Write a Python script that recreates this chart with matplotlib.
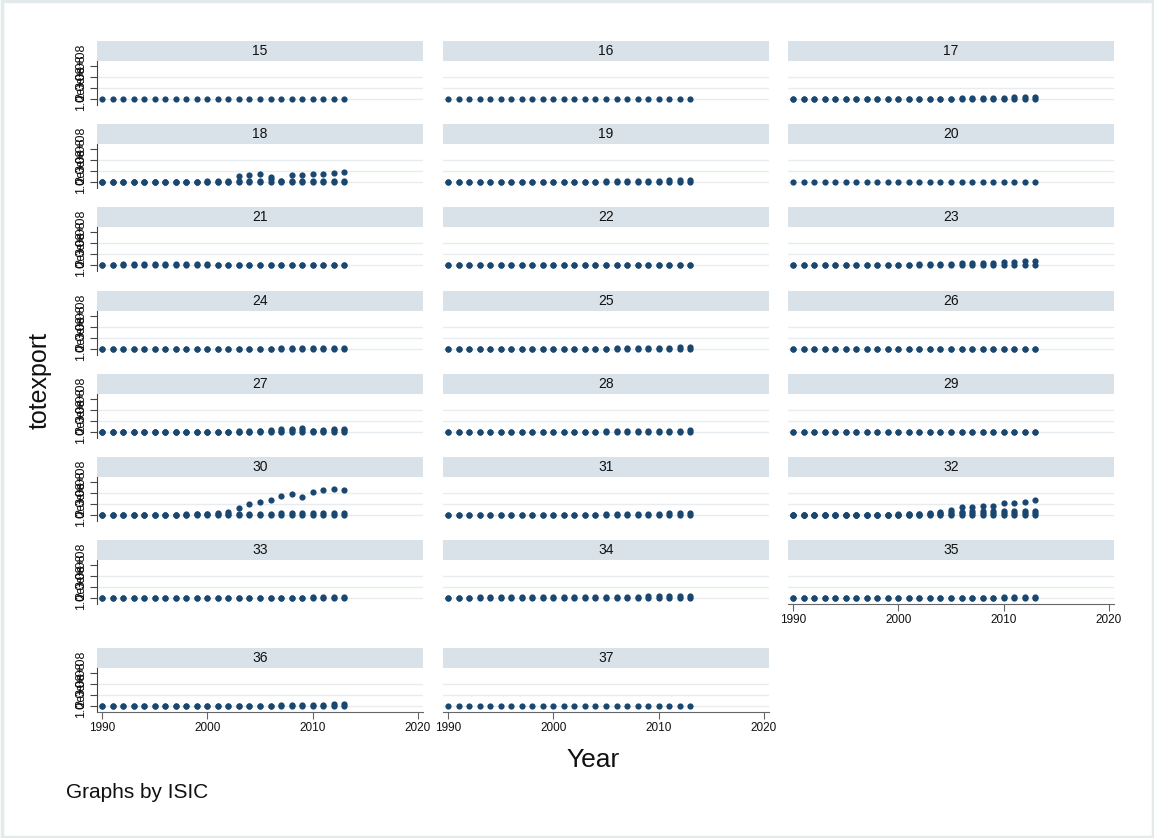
import matplotlib
matplotlib.use("Agg")
import matplotlib.pyplot as plt
import numpy as np
from matplotlib.patches import Rectangle

plt.rcParams['font.family'] = ['Liberation Sans', 'DejaVu Sans']

# ---------------------------------------------------------------------------
# Data: total exports by ISIC industry, 1990-2013 (values in 1e8 USD)
# ---------------------------------------------------------------------------
years = [1990, 1991, 1992, 1993, 1994, 1995, 1996, 1997, 1998, 1999, 2000, 2001,
         2002, 2003, 2004, 2005, 2006, 2007, 2008, 2009, 2010, 2011, 2012, 2013]

isic_codes = [15, 16, 17, 18, 19, 20, 21, 22, 23, 24, 25, 26,
              27, 28, 29, 30, 31, 32, 33, 34, 35, 36, 37]

y_ticks = [0, 1, 2, 3]
y_tick_labels = ["0", "1.0e+08", "2.0e+08", "3.0e+08"]
x_ticks = [1990, 2000, 2010, 2020]

isic15 = [[0.01, 0.01, 0.01, 0.01, 0.01, 0.01, 0.02, 0.02, 0.02, 0.02, 0.02, 0.02,
           0.02, 0.02, 0.02, 0.03, 0.03, 0.03, 0.03, 0.03, 0.03, 0.04, 0.04, 0.04]]
isic16 = [[0.01, 0.01, 0.01, 0.01, 0.01, 0.01, 0.01, 0.01, 0.01, 0.01, 0.01, 0.01,
           0.01, 0.01, 0.01, 0.01, 0.01, 0.02, 0.02, 0.02, 0.02, 0.02, 0.02, 0.02]]
isic17 = [[0.01, 0.01, 0.01, 0.01, 0.01, 0.01, 0.01, 0.01, 0.01, 0.01, 0.01, 0.01,
           0.01, 0.01, 0.01, 0.01, 0.01, 0.02, 0.02, 0.02, 0.02, 0.02, 0.02, 0.02],
          [0.02, 0.02, 0.02, 0.02, 0.02, 0.02, 0.02, 0.02, 0.02, 0.02, 0.02, 0.03,
           0.03, 0.03, 0.04, 0.04, 0.05, 0.06, 0.07, 0.09, 0.11, 0.14, 0.16, 0.17]]
isic18 = [[0.01, 0.01, 0.01, 0.01, 0.01, 0.01, 0.01, 0.01, 0.01, 0.01, 0.01, 0.01,
           0.01, 0.01, 0.01, 0.01, 0.01, 0.01, 0.01, 0.01, 0.01, 0.01, 0.01, 0.01],
          [0.02, 0.02, 0.02, 0.02, 0.02, 0.02, 0.03, 0.03, 0.03, 0.04, 0.05, 0.06,
           0.08, 0.58, 0.64, 0.70, 0.48, 0.06, 0.64, 0.64, 0.70, 0.76, 0.78, 0.88],
          [0.02, 0.02, 0.02, 0.02, 0.02, 0.02, 0.02, 0.02, 0.02, 0.03, 0.03, 0.03,
           0.04, 0.05, 0.05, 0.06, 0.26, 0.05, 0.06, 0.06, 0.07, 0.07, 0.08, 0.08]]
isic19 = [[0.01, 0.01, 0.01, 0.01, 0.01, 0.01, 0.01, 0.01, 0.01, 0.01, 0.01, 0.01,
           0.01, 0.01, 0.01, 0.01, 0.01, 0.01, 0.01, 0.01, 0.01, 0.01, 0.01, 0.01],
          [0.02, 0.02, 0.02, 0.02, 0.02, 0.02, 0.02, 0.02, 0.03, 0.03, 0.03, 0.03,
           0.03, 0.04, 0.04, 0.05, 0.06, 0.07, 0.08, 0.10, 0.12, 0.14, 0.16, 0.18]]
isic20 = [[0.01, 0.01, 0.01, 0.01, 0.01, 0.01, 0.01, 0.01, 0.01, 0.01, 0.01, 0.01,
           0.01, 0.01, 0.01, 0.01, 0.01, 0.01, 0.01, 0.02, 0.02, 0.02, 0.02, 0.02]]
isic21 = [[0.01, 0.01, 0.01, 0.01, 0.01, 0.01, 0.01, 0.01, 0.01, 0.01, 0.01, 0.01,
           0.01, 0.01, 0.01, 0.01, 0.01, 0.01, 0.01, 0.01, 0.01, 0.01, 0.01, 0.01],
          [0.03, 0.04, 0.05, 0.06, 0.06, 0.06, 0.06, 0.06, 0.06, 0.05, 0.05, 0.04,
           0.04, 0.04, 0.04, 0.04, 0.04, 0.04, 0.04, 0.04, 0.04, 0.04, 0.04, 0.04]]
isic22 = [[0.01, 0.01, 0.01, 0.01, 0.01, 0.01, 0.01, 0.01, 0.01, 0.01, 0.01, 0.01,
           0.01, 0.01, 0.01, 0.01, 0.01, 0.01, 0.01, 0.01, 0.01, 0.01, 0.01, 0.01],
          [0.03, 0.03, 0.04, 0.04, 0.04, 0.04, 0.04, 0.04, 0.04, 0.04, 0.04, 0.04,
           0.04, 0.04, 0.04, 0.04, 0.04, 0.04, 0.04, 0.04, 0.04, 0.04, 0.04, 0.04]]
isic23 = [[0.01, 0.01, 0.01, 0.01, 0.01, 0.01, 0.01, 0.01, 0.01, 0.01, 0.01, 0.01,
           0.01, 0.01, 0.01, 0.01, 0.01, 0.01, 0.01, 0.01, 0.01, 0.01, 0.01, 0.01],
          [0.02, 0.02, 0.02, 0.02, 0.02, 0.02, 0.02, 0.03, 0.03, 0.03, 0.03, 0.04,
           0.05, 0.06, 0.08, 0.10, 0.16, 0.18, 0.14, 0.20, 0.24, 0.28, 0.32, 0.34]]
isic24 = [[0.01, 0.01, 0.01, 0.01, 0.01, 0.01, 0.01, 0.01, 0.01, 0.01, 0.01, 0.01,
           0.01, 0.01, 0.01, 0.01, 0.01, 0.01, 0.01, 0.01, 0.01, 0.01, 0.01, 0.01],
          [0.02, 0.02, 0.02, 0.02, 0.02, 0.02, 0.02, 0.02, 0.02, 0.03, 0.03, 0.03,
           0.03, 0.03, 0.04, 0.04, 0.04, 0.05, 0.06, 0.07, 0.09, 0.10, 0.11, 0.12]]
isic25 = [[0.01, 0.01, 0.01, 0.01, 0.01, 0.01, 0.01, 0.01, 0.01, 0.01, 0.01, 0.01,
           0.01, 0.01, 0.01, 0.01, 0.01, 0.01, 0.01, 0.01, 0.01, 0.01, 0.01, 0.01],
          [0.02, 0.02, 0.02, 0.02, 0.02, 0.02, 0.02, 0.02, 0.02, 0.02, 0.03, 0.03,
           0.03, 0.03, 0.04, 0.04, 0.05, 0.05, 0.06, 0.07, 0.10, 0.13, 0.15, 0.17]]
isic26 = [[0.01, 0.01, 0.01, 0.01, 0.01, 0.01, 0.01, 0.01, 0.01, 0.01, 0.01, 0.01,
           0.01, 0.01, 0.01, 0.01, 0.01, 0.01, 0.01, 0.01, 0.01, 0.01, 0.01, 0.01],
          [0.02, 0.03, 0.03, 0.04, 0.04, 0.04, 0.04, 0.04, 0.04, 0.04, 0.04, 0.04,
           0.04, 0.04, 0.04, 0.04, 0.04, 0.04, 0.04, 0.04, 0.04, 0.04, 0.04, 0.04]]
isic27 = [[0.01, 0.01, 0.01, 0.01, 0.01, 0.01, 0.01, 0.01, 0.01, 0.01, 0.01, 0.01,
           0.01, 0.01, 0.01, 0.01, 0.01, 0.01, 0.01, 0.01, 0.01, 0.01, 0.01, 0.01],
          [0.02, 0.02, 0.02, 0.02, 0.02, 0.02, 0.02, 0.02, 0.02, 0.02, 0.03, 0.03,
           0.04, 0.05, 0.08, 0.12, 0.16, 0.26, 0.30, 0.36, 0.12, 0.22, 0.30, 0.28],
          [0.02, 0.02, 0.02, 0.02, 0.02, 0.02, 0.02, 0.02, 0.02, 0.02, 0.02, 0.02,
           0.03, 0.03, 0.04, 0.06, 0.08, 0.12, 0.15, 0.18, 0.06, 0.11, 0.15, 0.14]]
isic28 = [[0.01, 0.01, 0.01, 0.01, 0.01, 0.01, 0.01, 0.01, 0.01, 0.01, 0.01, 0.01,
           0.01, 0.01, 0.01, 0.01, 0.01, 0.01, 0.01, 0.01, 0.01, 0.01, 0.01, 0.01],
          [0.02, 0.02, 0.02, 0.02, 0.02, 0.02, 0.02, 0.02, 0.02, 0.02, 0.03, 0.03,
           0.03, 0.04, 0.04, 0.05, 0.06, 0.07, 0.09, 0.10, 0.11, 0.12, 0.13, 0.14]]
isic29 = [[0.01, 0.01, 0.01, 0.01, 0.01, 0.01, 0.01, 0.01, 0.01, 0.01, 0.01, 0.01,
           0.01, 0.01, 0.01, 0.01, 0.01, 0.01, 0.01, 0.01, 0.01, 0.01, 0.01, 0.01],
          [0.02, 0.02, 0.03, 0.03, 0.03, 0.03, 0.03, 0.03, 0.03, 0.03, 0.03, 0.03,
           0.03, 0.03, 0.03, 0.03, 0.03, 0.03, 0.03, 0.03, 0.03, 0.03, 0.03, 0.03]]
isic30 = [[0.01, 0.01, 0.01, 0.01, 0.01, 0.01, 0.01, 0.01, 0.01, 0.01, 0.01, 0.01,
           0.01, 0.01, 0.01, 0.01, 0.01, 0.01, 0.01, 0.01, 0.01, 0.01, 0.01, 0.01],
          [0.02, 0.02, 0.02, 0.02, 0.02, 0.03, 0.03, 0.03, 0.04, 0.05, 0.08, 0.10,
           0.12, 0.10, 0.08, 0.10, 0.12, 0.16, 0.18, 0.16, 0.20, 0.22, 0.20, 0.22],
          [0.02, 0.02, 0.02, 0.02, 0.03, 0.03, 0.04, 0.04, 0.05, 0.06, 0.09, 0.14,
           0.30, 0.64, 1.00, 1.20, 1.40, 1.75, 1.90, 1.65, 2.10, 2.25, 2.35, 2.30]]
isic31 = [[0.01, 0.01, 0.01, 0.01, 0.01, 0.01, 0.01, 0.01, 0.01, 0.01, 0.01, 0.01,
           0.01, 0.01, 0.01, 0.01, 0.01, 0.01, 0.01, 0.01, 0.01, 0.01, 0.01, 0.01],
          [0.02, 0.02, 0.02, 0.02, 0.02, 0.02, 0.02, 0.02, 0.02, 0.03, 0.03, 0.03,
           0.03, 0.04, 0.04, 0.05, 0.06, 0.07, 0.09, 0.10, 0.12, 0.14, 0.15, 0.16]]
isic32 = [[0.01, 0.01, 0.01, 0.01, 0.01, 0.01, 0.01, 0.01, 0.01, 0.01, 0.01, 0.01,
           0.01, 0.01, 0.01, 0.01, 0.01, 0.01, 0.01, 0.01, 0.01, 0.01, 0.01, 0.01],
          [0.02, 0.02, 0.02, 0.02, 0.02, 0.02, 0.02, 0.03, 0.03, 0.03, 0.04, 0.05,
           0.06, 0.12, 0.18, 0.24, 0.30, 0.34, 0.36, 0.36, 0.38, 0.40, 0.38, 0.40],
          [0.02, 0.02, 0.02, 0.02, 0.02, 0.02, 0.03, 0.03, 0.03, 0.04, 0.05, 0.06,
           0.08, 0.14, 0.26, 0.46, 0.70, 0.76, 0.84, 0.84, 1.06, 1.12, 1.16, 1.36],
          [0.02, 0.02, 0.02, 0.02, 0.02, 0.02, 0.02, 0.02, 0.02, 0.02, 0.03, 0.03,
           0.03, 0.06, 0.09, 0.12, 0.15, 0.17, 0.18, 0.18, 0.19, 0.20, 0.19, 0.20]]
isic33 = [[0.01, 0.01, 0.01, 0.01, 0.01, 0.01, 0.01, 0.01, 0.01, 0.01, 0.01, 0.01,
           0.01, 0.01, 0.01, 0.01, 0.01, 0.01, 0.01, 0.01, 0.01, 0.01, 0.01, 0.01],
          [0.02, 0.02, 0.02, 0.02, 0.02, 0.02, 0.02, 0.02, 0.02, 0.02, 0.02, 0.02,
           0.02, 0.02, 0.03, 0.03, 0.03, 0.03, 0.04, 0.04, 0.05, 0.07, 0.08, 0.09]]
isic34 = [[0.01, 0.01, 0.01, 0.01, 0.01, 0.01, 0.01, 0.01, 0.01, 0.01, 0.01, 0.01,
           0.01, 0.01, 0.01, 0.01, 0.01, 0.01, 0.01, 0.01, 0.01, 0.01, 0.01, 0.01],
          [0.02, 0.03, 0.04, 0.05, 0.06, 0.07, 0.08, 0.08, 0.08, 0.09, 0.09, 0.10,
           0.10, 0.10, 0.10, 0.11, 0.11, 0.12, 0.13, 0.14, 0.16, 0.17, 0.18, 0.19]]
isic35 = [[0.01, 0.01, 0.01, 0.01, 0.01, 0.01, 0.01, 0.01, 0.01, 0.01, 0.01, 0.01,
           0.01, 0.01, 0.01, 0.01, 0.01, 0.01, 0.01, 0.01, 0.01, 0.01, 0.01, 0.01],
          [0.03, 0.04, 0.04, 0.04, 0.04, 0.04, 0.04, 0.04, 0.04, 0.04, 0.04, 0.04,
           0.04, 0.04, 0.04, 0.04, 0.04, 0.04, 0.04, 0.04, 0.05, 0.05, 0.05, 0.05]]
isic36 = [[0.01, 0.01, 0.01, 0.01, 0.01, 0.01, 0.01, 0.01, 0.01, 0.01, 0.01, 0.01,
           0.01, 0.01, 0.01, 0.01, 0.01, 0.01, 0.01, 0.01, 0.01, 0.01, 0.01, 0.01],
          [0.02, 0.02, 0.02, 0.02, 0.02, 0.02, 0.02, 0.02, 0.02, 0.02, 0.03, 0.03,
           0.03, 0.03, 0.04, 0.04, 0.04, 0.05, 0.05, 0.06, 0.08, 0.12, 0.15, 0.16]]
isic37 = [[0.01, 0.01, 0.01, 0.01, 0.01, 0.01, 0.01, 0.01, 0.01, 0.01, 0.01, 0.01,
           0.01, 0.01, 0.01, 0.01, 0.01, 0.01, 0.01, 0.01, 0.01, 0.01, 0.01, 0.01]]

panel_series = [isic15, isic16, isic17, isic18, isic19, isic20, isic21, isic22,
                isic23, isic24, isic25, isic26, isic27, isic28, isic29, isic30,
                isic31, isic32, isic33, isic34, isic35, isic36, isic37]

# ---------------------------------------------------------------------------
# Figure layout (pixel geometry)
# ---------------------------------------------------------------------------
W, H = 1154, 838
DPI = 100
fig = plt.figure(figsize=(W / DPI, H / DPI), dpi=DPI, facecolor="white")

# outer frame of the graph region
fig.patches.append(Rectangle((1.5 / W, 1.5 / H), (W - 3) / W, (H - 3) / H,
                             transform=fig.transFigure, facecolor="none",
                             edgecolor="#e3eaec", linewidth=2.5, zorder=-1))

col_left = [97, 443, 788]
panel_w = 326
strip_h = 20
plot_h = 44
row_top = [41, 124, 207, 291, 374, 457, 540, 648]

marker_color = "#1a476f"
strip_color = "#d9e2e9"
grid_color = "#e6ecef"


def fig_rect(left, top, w, h):
    return [left / W, 1 - (top + h) / H, w / W, h / H]


n = len(isic_codes)
bottom_axis_panels = {n - 3, n - 2, n - 1}

for i, (code, series) in enumerate(zip(isic_codes, panel_series)):
    r, c = divmod(i, 3)
    left = col_left[c]
    top = row_top[r]

    # strip with the industry code
    sax = fig.add_axes(fig_rect(left, top, panel_w, strip_h))
    sax.set_facecolor(strip_color)
    sax.set_xticks([])
    sax.set_yticks([])
    for sp in sax.spines.values():
        sp.set_visible(False)
    sax.text(0.5, 0.5, str(code), ha="center", va="center", fontsize=10,
             color="#111111", transform=sax.transAxes)

    # plot region
    ax = fig.add_axes(fig_rect(left, top + strip_h, panel_w, plot_h))
    ax.set_xlim(1989.5, 2020.5)
    ax.set_ylim(-0.55, 3.45)
    for yv in y_ticks[:3]:
        ax.axhline(yv, color=grid_color, lw=1.0, zorder=0)

    for s in series:
        ax.scatter(years, s, s=20, color=marker_color, linewidths=0, zorder=3,
                   clip_on=False)

    for sp in ["top", "right"]:
        ax.spines[sp].set_visible(False)

    if c == 0:
        ax.spines["left"].set_color("#444444")
        ax.spines["left"].set_linewidth(0.8)
        ax.set_yticks(y_ticks)
        ax.set_yticklabels(y_tick_labels, rotation=90, va="center",
                           fontsize=9, color="#111111")
        ax.tick_params(axis="y", length=5, width=0.8, color="#444444", pad=2)
    else:
        ax.spines["left"].set_visible(False)
        ax.set_yticks([])

    if i in bottom_axis_panels:
        ax.spines["bottom"].set_color("#666666")
        ax.spines["bottom"].set_linewidth(0.8)
        ax.set_xticks(x_ticks)
        ax.set_xticklabels([str(x) for x in x_ticks], fontsize=8.5,
                           color="#111111")
        ax.tick_params(axis="x", length=5, width=0.8, color="#666666", pad=2)
    else:
        ax.spines["bottom"].set_visible(False)
        ax.set_xticks([])

# axis titles and note
fig.text(40 / W, 1 - 380 / H, "totexport", rotation=90, ha="center",
         va="center", fontsize=18, color="#111111")
fig.text(593 / W, 1 - 760 / H, "Year", ha="center", va="center",
         fontsize=19, color="#111111")
fig.text(66 / W, 1 - 792 / H, "Graphs by ISIC", ha="left", va="center",
         fontsize=15, color="#111111")

fig.savefig("out.png", dpi=DPI, facecolor=fig.get_facecolor())
